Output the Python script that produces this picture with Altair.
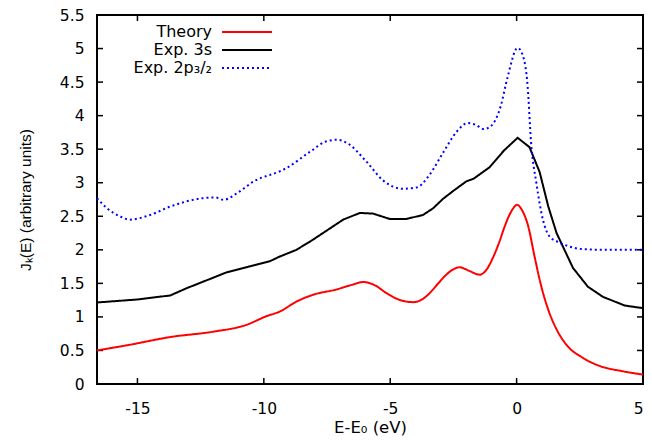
import altair as alt
import pandas as pd

# ---- data ----
theory_x = [-16.6, -15.3, -13.7, -12.0, -10.7, -9.9, -9.37, -8.7, -8.05, -7.12, -6.5, -6.07,
            -5.6, -5.15, -4.6, -4.1, -3.7, -3.44, -3.1, -2.78, -2.5, -2.25, -1.9, -1.46,
            -1.2, -0.94, -0.7, -0.47, -0.2, 0.02, 0.2, 0.46, 0.71, 0.98, 1.24, 1.6, 1.97,
            2.62, 3.28, 4.2, 5.0]
theory_y = [0.50, 0.585, 0.70, 0.78, 0.88, 1.01, 1.08, 1.23, 1.33, 1.41, 1.48, 1.52,
            1.47, 1.355, 1.25, 1.22, 1.27, 1.355, 1.50, 1.63, 1.71, 1.74, 1.69, 1.63,
            1.70, 1.88, 2.10, 2.35, 2.58, 2.67, 2.60, 2.35, 1.90, 1.45, 1.12, 0.80, 0.585,
            0.39, 0.27, 0.19, 0.14]

exp3s_x = [-16.6, -15.0, -13.7, -13.04, -12.3, -11.5, -10.6, -9.76, -9.37, -8.71, -8.06,
           -7.66, -6.86, -6.2, -5.68, -5.02, -4.36, -3.7, -3.3, -2.91, -2.5, -1.99, -1.7,
           -1.07, -0.5, 0.04, 0.51, 0.91, 1.25, 1.58, 2.23, 2.82, 3.41, 4.27, 5.0]
exp3s_y = [1.215, 1.26, 1.32, 1.43, 1.54, 1.66, 1.75, 1.83, 1.90, 2.0, 2.15,
           2.25, 2.45, 2.55, 2.54, 2.46, 2.46, 2.52, 2.62, 2.76, 2.88, 3.02, 3.06,
           3.23, 3.48, 3.67, 3.53, 3.16, 2.65, 2.25, 1.73, 1.45, 1.30, 1.17, 1.13]

exp2p_x = [-16.6, -16.2, -15.7, -15.3, -14.5, -13.7, -12.4, -11.9, -11.6, -11.0, -10.4,
           -9.37, -9.1, -8.18, -7.5, -7.1, -6.7, -5.93, -5.3, -4.5, -3.95, -3.44, -2.92,
           -2.37, -1.94, -1.6, -1.3, -1.03, -0.63, -0.36, 0.04, 0.24, 0.44, 0.57, 0.78,
           1.04, 1.3, 1.63, 2.0, 2.62, 3.5, 5.0]
exp2p_y = [2.77, 2.62, 2.50, 2.45, 2.52, 2.645, 2.77, 2.78, 2.745, 2.86, 3.02,
           3.17, 3.22, 3.46, 3.62, 3.64, 3.59, 3.31, 3.04, 2.91, 2.93, 3.12, 3.44,
           3.76, 3.89, 3.86, 3.80, 3.84, 4.14, 4.57, 5.01, 4.90, 4.42, 3.61, 3.0,
           2.45, 2.2, 2.12, 2.06, 2.01, 2.0, 2.0]

series_names = ["Theory", "Exp. 3s", "Exp. 2p\u2083/\u2082"]
series_colors = ["#ff0000", "#000000", "#0000ff"]
series_dashes = [[1, 0], [1, 0], [2, 3]]
BOX = "box"

x_min, x_max = -16.6, 5
y_min, y_max = 0, 5.5
x_ticks = [-15, -10, -5, 0, 5]
y_ticks = [0, 0.5, 1, 1.5, 2, 2.5, 3, 3.5, 4, 4.5, 5, 5.5]

W, H = 546, 369
WIDE = "DejaVu Sans"
NARROW = "Liberation Sans"
INK = "#000000"

frames = []
for name, xs, ys in zip(series_names, [theory_x, exp3s_x, exp2p_x], [theory_y, exp3s_y, exp2p_y]):
    frames.append(pd.DataFrame({"E": xs, "J": ys, "series": name}))
df = pd.concat(frames, ignore_index=True)

x_scale = alt.Scale(domain=[x_min, x_max], nice=False, zero=False)
y_scale = alt.Scale(domain=[y_min, y_max], nice=False, zero=False)

x_axis = alt.Axis(values=x_ticks, labelExpr="'' + datum.value", ticks=False, tickSize=0,
                  grid=False, domain=False, labelFlush=1, labelPadding=17, labelOverlap=False,
                  labelFont=WIDE, labelFontSize=15.5, titleFont=WIDE, titleFontSize=16.5,
                  titlePadding=3)
y_axis = alt.Axis(values=y_ticks, labelExpr="'' + datum.value", ticks=False, tickSize=0,
                  grid=False, domain=False, labelFlush=False, labelPadding=13, labelOverlap=False,
                  labelFont=WIDE, labelFontSize=15.5, titleFont=NARROW, titleFontSize=15.5,
                  titlePadding=26)

x_enc = alt.X("E:Q", title="E-E\u2080 (eV)", scale=x_scale, axis=x_axis)
y_enc = alt.Y("J:Q", title="J\u2096(E) (arbitrary units)", scale=y_scale, axis=y_axis)

legend = alt.Legend(orient="none", legendX=99, legendY=9, title=None, values=series_names,
                    symbolType="M3.6,0H13.6", symbolSize=100, symbolStrokeWidth=2,
                    labelAlign="right", labelOffset=0, labelFontSize=16, labelFont=WIDE,
                    labelColor=INK, rowPadding=2, labelLimit=0)
color_enc = alt.Color("series:N",
                      scale=alt.Scale(domain=series_names + [BOX], range=series_colors + [INK]),
                      legend=legend)
dash_enc = alt.StrokeDash("series:N",
                          scale=alt.Scale(domain=series_names + [BOX], range=series_dashes + [[1, 0]]),
                          legend=legend)

def series_layer(name, interp):
    return alt.Chart(df).transform_filter(alt.datum.series == name).mark_line(
        strokeWidth=2, interpolate=interp, strokeCap="butt"
    ).encode(x=x_enc, y=y_enc, color=color_enc, strokeDash=dash_enc)

lines = [
    series_layer(series_names[0], "monotone"),
    series_layer(series_names[1], "linear"),
    series_layer(series_names[2], "monotone"),
]

# plot box: a closed line through the corners of the scale domain
box = pd.DataFrame({
    "E": [x_min, x_max, x_max, x_min, x_min],
    "J": [y_min, y_min, y_max, y_max, y_min],
    "o": [0, 1, 2, 3, 4],
    "series": [BOX] * 5,
})
frame = alt.Chart(box).mark_line(strokeWidth=2, strokeCap="square", strokeJoin="miter").encode(
    x=x_enc, y=y_enc, order="o:Q", color=color_enc, strokeDash=dash_enc)

# inward tick marks (gnuplot style) drawn as short stroked symbols on the box edges
TICK = 144  # symbol size -> 6 px long stroke
xt_bottom = pd.DataFrame({"E": x_ticks, "J": [y_min] * len(x_ticks), "series": BOX})
xt_top = pd.DataFrame({"E": x_ticks, "J": [y_max] * len(x_ticks), "series": BOX})
yt_left = pd.DataFrame({"E": [x_min] * len(y_ticks), "J": y_ticks, "series": BOX})
yt_right = pd.DataFrame({"E": [x_max] * len(y_ticks), "J": y_ticks, "series": BOX})

def tick_layer(data, path):
    return alt.Chart(data).mark_point(shape=path, size=TICK, filled=False,
                                      strokeWidth=1.5, opacity=1).encode(
        x=x_enc, y=y_enc, color=color_enc)

ticks = [
    tick_layer(xt_bottom, "M0,0V-1"),
    tick_layer(xt_top, "M0,0V1"),
    tick_layer(yt_left, "M0,0H1"),
    tick_layer(yt_right, "M0,0H-1"),
]

chart = alt.layer(frame, *ticks, *lines).properties(
    width=W, height=H,
    background="white",
    autosize=alt.AutoSizeParams(type="none"),
    padding={"left": 89, "top": 7, "right": 1, "bottom": 54},
).configure_view(strokeWidth=0).configure_axis(
    labelColor=INK, titleColor=INK, titleFontWeight="normal"
)

chart.save("out.html", embed_options={"renderer": "svg", "actions": False})
